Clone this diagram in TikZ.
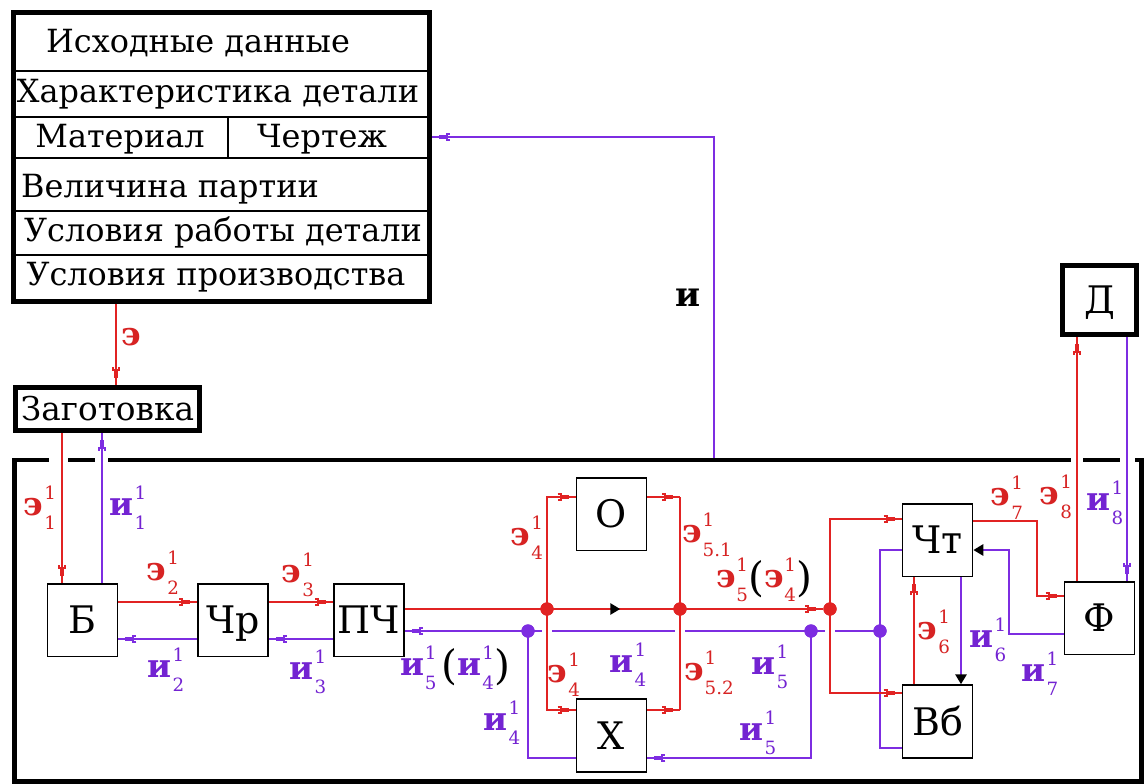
\documentclass[tikz,border=0pt]{standalone}
\usepackage{fontspec}
\setmainfont{DejaVu Serif}
\usetikzlibrary{arrows.meta,decorations.markings,calc}
\definecolor{er}{RGB}{225,35,35}
\definecolor{iv}{RGB}{125,45,225}
\definecolor{erl}{RGB}{215,35,35}
\definecolor{ivl}{RGB}{115,35,210}
\newcommand\lab[3]{\textbf{#1}\kern0.5pt\rlap{\raisebox{11.5pt}{\fontsize{13}{14}\selectfont\mdseries #2}}\raisebox{-10pt}{\fontsize{13}{14}\selectfont\mdseries #3}}
\newcommand\paren[1]{\raisebox{-3pt}{\color{black}\fontsize{29}{30}\selectfont\mdseries #1}}
\tikzset{
  box/.style={draw, line width=1.3pt, minimum width=1.75cm, minimum height=1.82cm, inner sep=0pt,
    text height=19.7pt, text depth=0pt, font=\fontsize{27}{29}\selectfont},
  bbox/.style={draw, line width=3.5pt, inner sep=0pt},
  tt/.style={inner sep=0pt, anchor=base, font=\fontsize{22.7}{24}\selectfont},
  eline/.style={er, line width=1.4pt},
  iline/.style={iv, line width=1.4pt},
  flow/.style={postaction={decorate, decoration={markings,
     mark=at position -10pt with {\arrow{Bracket[width=6pt,length=2pt]}},
     mark=at position -5pt with {\arrow{Rectangle[length=5pt,width=3pt]}}}}},
  tri/.style={-{Triangle[length=7pt,width=8pt,black]}},
  midtri/.style={postaction={decorate, decoration={markings,
     mark=at position 0.55 with {\arrow{Triangle[length=7pt,width=8pt,black]}}}}},
  rdot/.style={circle, fill=er, inner sep=0pt, minimum size=0.33cm},
  vdot/.style={circle, fill=iv, inner sep=0pt, minimum size=0.33cm},
  elab/.style={inner sep=0pt, text=erl, font=\fontsize{23}{25}\selectfont},
  ilab/.style={inner sep=0pt, text=ivl, font=\fontsize{23}{25}\selectfont},
  klab/.style={inner sep=0pt, text=black, font=\fontsize{24}{26}\selectfont},
}
\begin{document}
\begin{tikzpicture}[x=0.025cm, y=-0.025cm]
\useasboundingbox (0,0) rectangle (1144,783);
\fill[white] (0,0) rectangle (1144,783);

% ---------- table of initial data ----------
\node[bbox, minimum width=10.4cm, minimum height=7.2125cm] (tbl) at (221.5,156.75) {};
\foreach \yy in {71,117,158,211,255}
  \draw[line width=1.3pt] (tbl.west |- 0,\yy) -- (tbl.east |- 0,\yy);
\draw[line width=1.3pt] (228,117) -- (228,158);
\node[tt] (t1) at (198,52) {Исходные данные};
\node[tt] (t2) at (218,102) {Характеристика детали};
\node[tt] (t3) at (120,147) {Материал};
\node[tt] (t4) at (322,147) {Чертеж};
\node[tt] (t5) at (170,197) {Величина партии};
\node[tt] (t6) at (223,241) {Условия работы детали};
\node[tt] (t7) at (216,285) {Условия производства};

% ---------- other boxes ----------
\node[bbox, minimum width=4.6cm, minimum height=1.075cm, text height=17pt, text depth=0pt,
      font=\fontsize{23.3}{25}\selectfont] (zag) at (107.5,409) {Заготовка};
\node[bbox, minimum width=1.85cm, minimum height=1.725cm, text height=19.7pt, text depth=0pt,
      font=\fontsize{27}{29}\selectfont] (D) at (1099.5,300) {Д};
\node[bbox, minimum width=28.1625cm, minimum height=8.025cm] (sys) at (577.75,620.5) {};

\node[box] (B) at (82.5,620) {Б};
\node[box] (Chr) at (233,620) {Чр};
\node[box] (PCh) at (369,620) {ПЧ};
\node[box] (O) at (611.5,514) {О};
\node[box] (X) at (611.5,735.5) {Х};
\node[box] (Cht) at (937.5,540) {Чт};
\node[box] (Vb) at (937.5,721.5) {Вб};
\node[box] (F) at (1099.5,618) {Ф};

% gaps in the frame where lines pass through
\fill[white] (49,453) rectangle (68,467);
\fill[white] (95,453) rectangle (108,467);
\fill[white] (1071,453) rectangle (1083,467);
\fill[white] (1120,453) rectangle (1135,467);

% ---------- helper coordinates ----------
\coordinate (xe) at (116,0);
\coordinate (x1e) at (62,0);
\coordinate (x1i) at (102,0);
\coordinate (y2e) at (0,602);
\coordinate (y2i) at (0,639);
\coordinate (yO) at (0,497);
\coordinate (yX) at (0,710);
\coordinate (xM) at (714,0);
\coordinate (yM) at (0,137);
\coordinate (yT) at (0,519);
\coordinate (yV) at (0,693);
\coordinate (yi) at (0,758);
\coordinate (yCi) at (0,550);
\coordinate (yVi) at (0,748);
\coordinate (x6e) at (914,0);
\coordinate (x6i) at (961,0);
\coordinate (k7e) at (1037,521);
\coordinate (y7e) at (0,596);
\coordinate (k7i) at (1009,550);
\coordinate (y7i) at (0,634);
\coordinate (x8e) at (1077,0);
\coordinate (x8i) at (1127,0);

% dots
\node[rdot] (d1) at (547,609) {};
\node[rdot] (d2) at (680,609) {};
\node[rdot] (d3) at (830,609) {};
\node[vdot] (p1) at (528,631) {};
\node[vdot] (p2) at (811,631) {};
\node[vdot] (p3) at (880,631) {};

% ---------- violet (information) lines ----------
\draw[iline, flow] (sys.north -| xM) |- (tbl.east |- yM);
\draw[iline, flow] (B.north -| x1i) -- (zag.south -| x1i);
\draw[iline, flow] (Chr.west |- y2i) -- (B.east |- y2i);
\draw[iline, flow] (PCh.west |- y2i) -- (Chr.east |- y2i);
\draw[iline, flow] (p3.center) -- (PCh.east |- p3);
\draw[iline] (p1.center) |- (X.west |- yi);
\draw[iline, flow] (p2.center) |- (X.east |- yi);
\draw[iline] (p3.center) |- (Cht.west |- yCi);
\draw[iline] (p3.center) |- (Vb.west |- yVi);
\draw[iline, tri] (Cht.south -| x6i) -- (Vb.north -| x6i);
\draw[iline, tri] (F.west |- y7i) -| (k7i) -- (Cht.east |- k7i);
\draw[iline, flow] (D.south -| x8i) -- (F.north -| x8i);

% gaps in the violet main line under red verticals
\fill[white] (542,627) rectangle (552,635);
\fill[white] (675,627) rectangle (685,635);
\fill[white] (825,627) rectangle (835,635);

% ---------- red (energy) lines ----------
\draw[eline, flow] (tbl.south -| xe) -- (zag.north -| xe);
\draw[eline, flow] (zag.south -| x1e) -- (B.north -| x1e);
\draw[eline, flow] (B.east |- y2e) -- (Chr.west |- y2e);
\draw[eline, flow] (Chr.east |- y2e) -- (PCh.west |- y2e);
\draw[eline] (PCh.east |- d1) -- (d1.center);
\draw[eline, midtri] (d1.center) -- (d2.center);
\draw[eline, flow] (d2.center) -- (d3.west);
\draw[eline, flow] (d1.center) |- (O.west |- yO);
\draw[eline, flow] (d1.center) |- (X.west |- yX);
\draw[eline, flow] (O.east |- yO) -- (d2 |- yO);
\draw[eline] (d2 |- yO) -- (d2.center);
\draw[eline, flow] (X.east |- yX) -- (d2 |- yX);
\draw[eline] (d2 |- yX) -- (d2.center);
\draw[eline, flow] (d3.center) |- (Cht.west |- yT);
\draw[eline, flow] (d3.center) |- (Vb.west |- yV);
\draw[eline, flow] (Vb.north -| x6e) -- (Cht.south -| x6e);
\draw[eline, flow] (Cht.east |- k7e) -| (k7e |- y7e) -- (F.west |- y7e);
\draw[eline, flow] (F.north -| x8e) -- (D.south -| x8e);

% redraw dots on top
\node[rdot] at (d1) {};
\node[rdot] at (d2) {};
\node[rdot] at (d3) {};
\node[vdot] at (p1) {};
\node[vdot] at (p2) {};
\node[vdot] at (p3) {};

% ---------- labels ----------
\node[elab] (le) at (131,337) {\textbf{э}};
\node[klab] (li) at (688,298) {\textbf{и}};
\node[elab] (l1) at (40,508) {\lab{э}{1}{1}};
\node[ilab] (l2) at (128,508) {\lab{и}{1}{1}};
\node[elab] (l3) at (163,573) {\lab{э}{1}{2}};
\node[elab] (l4) at (298,575) {\lab{э}{1}{3}};
\node[ilab] (l5) at (166,670) {\lab{и}{1}{2}};
\node[ilab] (l6) at (308,672) {\lab{и}{1}{3}};
\node[ilab] (l7) at (455,668) {\lab{и}{1}{5}\,\paren{(}\lab{и}{1}{4}\paren{)}};
\node[elab] (l8) at (527,538) {\lab{э}{1}{4}};
\node[elab] (l9) at (707,535) {\lab{э}{1}{5.1}};
\node[elab] (l10) at (764,580) {\lab{э}{1}{5}\paren{(}\lab{э}{1}{4}\paren{)}};
\node[elab] (l11) at (564,675) {\lab{э}{1}{4}};
\node[ilab] (l12) at (628,665) {\lab{и}{1}{4}};
\node[elab] (l13) at (709,673) {\lab{э}{1}{5.2}};
\node[ilab] (l14) at (770,667) {\lab{и}{1}{5}};
\node[ilab] (l15) at (502,723) {\lab{и}{1}{4}};
\node[ilab] (l16) at (758,733) {\lab{и}{1}{5}};
\node[elab] (l17) at (934,632) {\lab{э}{1}{6}};
\node[ilab] (l18) at (988,640) {\lab{и}{1}{6}};
\node[elab] (l19) at (1007,498) {\lab{э}{1}{7}};
\node[elab] (l20) at (1056,497) {\lab{э}{1}{8}};
\node[ilab] (l21) at (1105,503) {\lab{и}{1}{8}};
\node[ilab] (l22) at (1040,674) {\lab{и}{1}{7}};
\end{tikzpicture}
\end{document}
